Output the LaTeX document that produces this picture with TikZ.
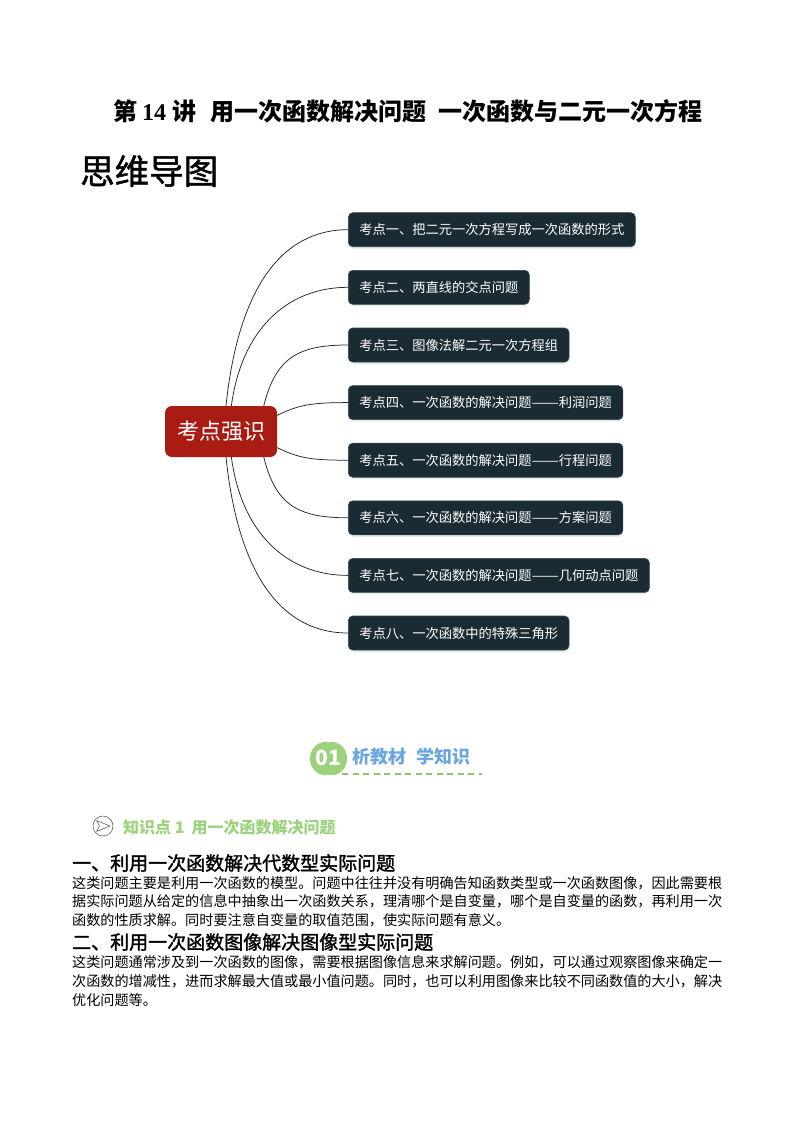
\documentclass[tikz,border=0pt]{standalone}
\usepackage{fontspec}
\setmainfont{Noto Sans CJK SC}
\newfontfamily\serifnum{Liberation Serif}
\XeTeXlinebreaklocale "zh"
\XeTeXlinebreakskip=0pt plus 1pt
\definecolor{branchfill}{HTML}{1A2B33}
\definecolor{branchedge}{HTML}{2C4A55}
\definecolor{rootfill}{HTML}{A81C14}
\definecolor{greenmark}{HTML}{9CD27C}
\definecolor{dashgreen}{HTML}{8FC46E}
\definecolor{bluehead}{HTML}{6AA6E2}
\newcommand{\widedash}{\scalebox{1.23}[1]{——}}
\newcommand{\heavyface}[1]{\addfontfeature{FakeBold=#1}}
\tikzset{
  x=1pt,y=-1pt,
  branch/.style={anchor=west,draw=branchedge,line width=0.6pt,fill=branchfill,text=white,rounded corners=4.5pt,
    font=\fontsize{13.25}{15}\selectfont,inner xsep=11pt,inner ysep=0pt,minimum height=34pt,
    preaction={fill=black!8,draw=none,transform canvas={yshift=-2pt}}},
  rootbox/.style={draw=none,fill=rootfill,text=white,rounded corners=7pt,font=\fontsize{22}{25}\selectfont,
    minimum width=112pt,minimum height=51pt,inner sep=0pt},
  link/.style={draw=black!85,line width=0.75pt},
  body/.style={anchor=north west,text width=650pt,inner sep=0pt,align=justify,font=\fontsize{14.13}{18.7}\selectfont},
  headline/.style={anchor=west,inner sep=0pt,font=\fontsize{19}{22}\selectfont\heavyface{1.6}},
  plaintext/.style={anchor=west,inner sep=0pt},
}
\begin{document}
\begin{tikzpicture}
\useasboundingbox (0,0) rectangle (794,1123);
\fill[white] (0,0) rectangle (794,1123);

\node[plaintext,font=\fontsize{24}{28}\selectfont\bfseries] (title) at (113,111)
  {第\hspace{5pt}{\serifnum 14}\hspace{6pt}讲\hspace{14pt}用一次函数解决问题\hspace{12pt}一次函数与二元一次方程};
\node[plaintext,font=\fontsize{34.5}{38}\selectfont\heavyface{1.2}] (mind) at (80,171) {思维导图};

\node[rootbox] (root) at (221,431.5) {考点强识};
\node[branch] (b1) at (348,229.7) {考点一、把二元一次方程写成一次函数的形式};
\node[branch] (b2) at (348,287.3) {考点二、两直线的交点问题};
\node[branch] (b3) at (348,345) {考点三、图像法解二元一次方程组};
\node[branch] (b4) at (348,402.6) {考点四、一次函数的解决问题\widedash 利润问题};
\node[branch] (b5) at (348,460.2) {考点五、一次函数的解决问题\widedash 行程问题};
\node[branch] (b6) at (348,517.8) {考点六、一次函数的解决问题\widedash 方案问题};
\node[branch] (b7) at (348,575.4) {考点七、一次函数的解决问题\widedash 几何动点问题};
\node[branch] (b8) at (348,633) {考点八、一次函数中的特殊三角形};

\draw[link] (root.79) .. controls +(12,-115) and +(-68,0) .. (b1.west);
\draw[link] (root.68) .. controls +(10,-75) and +(-62,0) .. (b2.west);
\draw[link] (root.31) .. controls +(12,-48) and +(-50,0) .. (b3.west);
\draw[link] (root.16) .. controls +(22,-11) and +(-35,0) .. (b4.west);
\draw[link] (root.-16) .. controls +(22,11) and +(-35,0) .. (b5.west);
\draw[link] (root.-31) .. controls +(12,48) and +(-50,0) .. (b6.west);
\draw[link] (root.-68) .. controls +(10,75) and +(-62,0) .. (b7.west);
\draw[link] (root.-79) .. controls +(12,115) and +(-68,0) .. (b8.west);

\fill[greenmark] (325,758.5) ellipse (15pt and 16.5pt);
\fill[greenmark] (332,758.5) ellipse (15pt and 16.5pt);
\node[inner sep=0pt,text=white,font=\fontsize{21}{24}\selectfont\bfseries] (num) at (328,757.5) {01};
\node[plaintext,text=bluehead,font=\fontsize{18}{21}\selectfont\bfseries] (sec) at (352.5,757) {析教材\hspace{10pt}学知识};
\coordinate (dashA) at (342,774);
\coordinate (dashB) at (482,774);
\draw[dashgreen,line width=2pt,dash pattern=on 6pt off 4.5pt] (dashA) -- (dashB);

\node[circle,draw=black!70,line width=0.5pt,minimum size=20pt,inner sep=0pt] (kp) at (103,826) {};
\draw[black!70,line width=0.5pt,line join=round] (96.5,820.5) -- (110,826) -- (96.5,831.5) -- (99.5,826) -- cycle;
\node[plaintext,text=greenmark,font=\fontsize{16}{19}\selectfont\bfseries] (kptext) at (123,827) {知识点 1\hspace{7pt}用一次函数解决问题};

\node[headline] (h1) at (72,863) {一、利用一次函数解决代数型实际问题};
\node[body] (p1) at (72,876) {这类问题主要是利用一次函数的模型。问题中往往并没有明确告知函数类型或一次函数图像，因此需要根据实际问题从给定的信息中抽象出一次函数关系，理清哪个是自变量，哪个是自变量的函数，再利用一次函数的性质求解。同时要注意自变量的取值范围，使实际问题有意义。};
\node[headline] (h2) at (72,942) {二、利用一次函数图像解决图像型实际问题};
\node[body] (p2) at (72,955.5) {这类问题通常涉及到一次函数的图像，需要根据图像信息来求解问题。例如，可以通过观察图像来确定一次函数的增减性，进而求解最大值或最小值问题。同时，也可以利用图像来比较不同函数值的大小，解决优化问题等。};
\end{tikzpicture}
\end{document}
